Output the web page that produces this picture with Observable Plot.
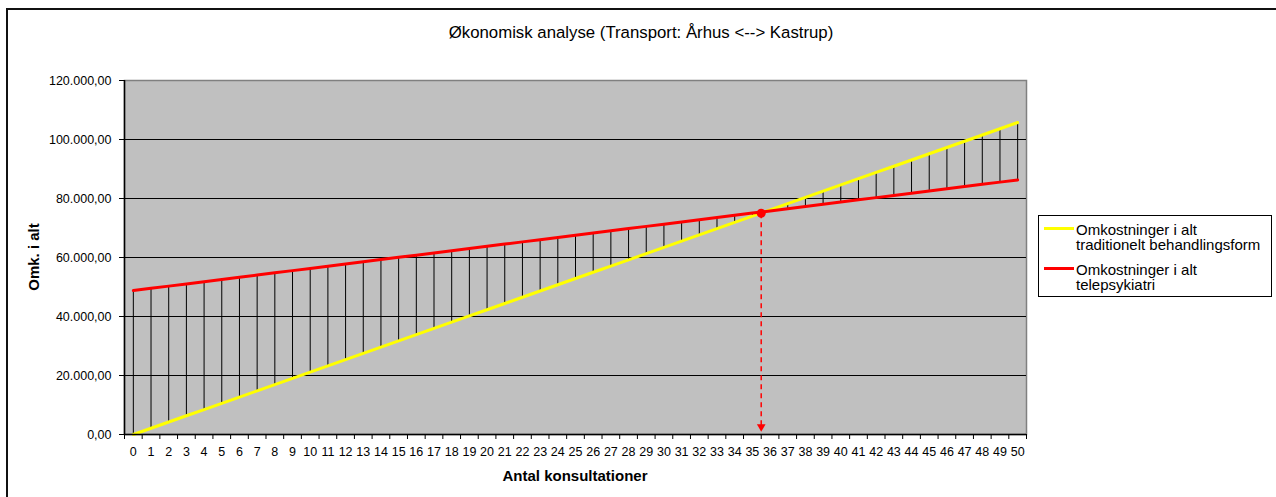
<!DOCTYPE html>
<html>
<head>
<meta charset="utf-8">
<script src="https://cdn.jsdelivr.net/npm/d3@7"></script>
<script src="https://cdn.jsdelivr.net/npm/@observablehq/plot@0.6"></script>
<style>
  html, body { margin: 0; padding: 0; background: #fff; }
  body { width: 1276px; height: 497px; position: relative; overflow: hidden; font-family: "Liberation Sans", Arial, sans-serif; color: #000; }
  #frame { position: absolute; left: 6px; top: 8px; width: 1300px; height: 600px; border-left: 2px solid #111; border-top: 2px solid #111; box-sizing: border-box; }
  #chart { position: absolute; left: 0; top: 0; }
  #title { position: absolute; left: 0; width: 1282px; top: 23px; text-align: center; font-size: 16.8px; }
  #ylabel { position: absolute; left: 33px; top: 257px; transform: translate(-50%, -50%) rotate(-90deg); font-size: 15px; font-weight: bold; white-space: nowrap; }
  #xlabel { position: absolute; left: 0; width: 1150px; top: 467px; text-align: center; font-size: 15px; font-weight: bold; }
  #legend { position: absolute; left: 1038px; top: 215px; width: 234px; height: 82px; border: 1px solid #000; box-sizing: border-box; background: #fff; font-size: 15px; }
  .item { position: absolute; left: 37px; line-height: 15px; white-space: nowrap; }
  .swatch { position: absolute; left: 5px; width: 30px; height: 3px; }
</style>
</head>
<body>
<div id="frame"></div>
<div id="chart"></div>
<div id="title">Økonomisk analyse (Transport: Århus &lt;--&gt; Kastrup)</div>
<div id="ylabel">Omk. i alt</div>
<div id="xlabel">Antal konsultationer</div>
<div id="legend"></div>
<script>
// Data
const consultations = [0,1,2,3,4,5,6,7,8,9,10,11,12,13,14,15,16,17,18,19,20,21,22,23,24,25,26,27,28,29,30,31,32,33,34,35,36,37,38,39,40,41,42,43,44,45,46,47,48,49,50];
const traditionel = [0,2115,4230,6345,8460,10575,12690,14805,16920,19035,21150,23265,25380,27495,29610,31725,33840,35955,38070,40185,42300,44415,46530,48645,50760,52875,54990,57105,59220,61335,63450,65565,67680,69795,71910,74025,76140,78255,80370,82485,84600,86715,88830,90945,93060,95175,97290,99405,101520,103635,105750];
const telepsykiatri = [48800,49550,50300,51050,51800,52550,53300,54050,54800,55550,56300,57050,57800,58550,59300,60050,60800,61550,62300,63050,63800,64550,65300,66050,66800,67550,68300,69050,69800,70550,71300,72050,72800,73550,74300,75050,75800,76550,77300,78050,78800,79550,80300,81050,81800,82550,83300,84050,84800,85550,86300];
const seriesNames = ["Omkostninger i alt traditionelt behandlingsform", "Omkostninger i alt telepsykiatri"];
const seriesLabels = [["Omkostninger i alt", "traditionelt behandlingsform"], ["Omkostninger i alt", "telepsykiatri"]];
const seriesColors = ["#ffff00", "#ff0000"];
const breakEvenX = [35.5];
const breakEvenY = [75000];
const arrowTipY = [2600];
const yTicks = [0, 20000, 40000, 60000, 80000, 100000, 120000];
const gridLines = [20000, 40000, 60000, 80000, 100000];

const data = consultations.map((n, i) => ({n, trad: traditionel[i], tele: telepsykiatri[i]}));
const breakEven = breakEvenX.map((x, i) => ({x, y: breakEvenY[i], tip: arrowTipY[i]}));
const tickEdges = consultations.map(d => d - 0.5).concat([consultations[consultations.length - 1] + 0.5]);

const locale = d3.formatLocale({decimal: ",", thousands: ".", grouping: [3], currency: ["", ""]});
const fmt = locale.format(",.2f");

const chart = Plot.plot({
  width: 1276,
  height: 497,
  marginLeft: 124,
  marginRight: 250,
  marginTop: 80,
  marginBottom: 63,
  style: {fontFamily: "'Liberation Sans', Arial, sans-serif", fontSize: "12.5px", color: "#000", background: "transparent", overflow: "visible"},
  x: {type: "linear", domain: [-0.5, 50.5]},
  y: {domain: [0, 120000]},
  marks: [
    Plot.frame({fill: "#c0c0c0", stroke: "#808080", strokeWidth: 1.5}),
    Plot.ruleY(gridLines, {stroke: "#000", strokeWidth: 1}),
    Plot.ruleX(data, {x: "n", y1: "trad", y2: "tele", stroke: "#000", strokeWidth: 1}),
    Plot.line(data, {x: "n", y: "trad", stroke: seriesColors[0], strokeWidth: 3}),
    Plot.line(data, {x: "n", y: "tele", stroke: seriesColors[1], strokeWidth: 3}),
    Plot.link(breakEven, {x1: "x", y1: "y", x2: "x", y2: "tip", stroke: "#ff0000", strokeWidth: 1.5, strokeDasharray: "5,4"}),
    Plot.dot(breakEven, {x: "x", y: "tip", symbol: "triangle", rotate: 180, r: 3.2, fill: "#ff0000", stroke: "none"}),
    Plot.dot(breakEven, {x: "x", y: "y", r: 4.5, fill: "#ff0000", stroke: "none"}),
    Plot.ruleX([-0.5], {stroke: "#000", strokeWidth: 1.5}),
    Plot.ruleY([0], {stroke: "#000", strokeWidth: 1.5}),
    Plot.axisY({ticks: yTicks, tickSize: 5, tickPadding: 8, tickFormat: fmt, label: null, stroke: "#000"}),
    Plot.axisX({ticks: tickEdges, tickSize: 5, tickFormat: () => "", label: null}),
    Plot.axisX({ticks: consultations, tickSize: 0, tickPadding: 13, tickFormat: d => String(d), label: null})
  ]
});
document.getElementById("chart").appendChild(chart);

const legend = document.getElementById("legend");
const tops = [6, 46];
seriesLabels.forEach((lines, i) => {
  const sw = document.createElement("div");
  sw.className = "swatch";
  sw.style.top = (tops[i] + 5) + "px";
  sw.style.background = seriesColors[i];
  legend.appendChild(sw);
  const it = document.createElement("div");
  it.className = "item";
  it.style.top = tops[i] + "px";
  it.title = seriesNames[i];
  it.innerHTML = lines.join("<br>");
  legend.appendChild(it);
});
</script>
</body>
</html>
